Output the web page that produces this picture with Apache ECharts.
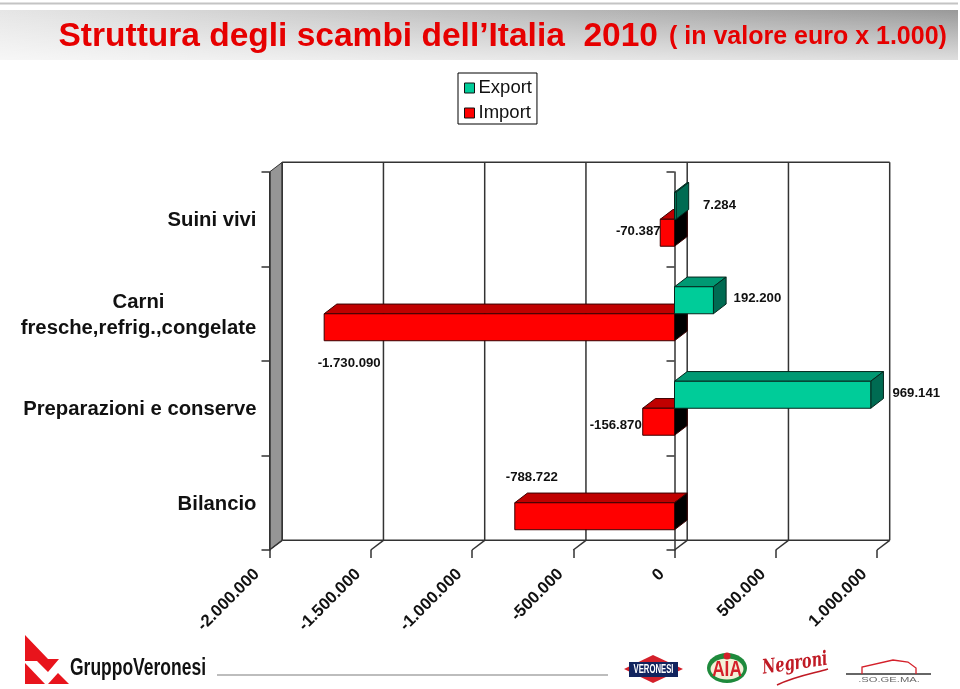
<!DOCTYPE html>
<html>
<head>
<meta charset="utf-8">
<style>html,body{margin:0;padding:0;background:#fff}#c{width:960px;height:689px}</style>
<script src="https://cdn.jsdelivr.net/npm/echarts@6/dist/echarts.min.js"></script>
</head>
<body>
<div id="c"></div>
<script>
const categories = ['Suini vivi', 'Carni\nfresche,refrig.,congelate', 'Preparazioni e conserve', 'Bilancio'];
const exportValues = [7284, 192200, 969141, null];
const importValues = [-70387, -1730090, -156870, -788722];
const xTicks = [-2000000, -1500000, -1000000, -500000, 0, 500000, 1000000];

const exportLabelNudge = [[43.5, 0], [44, -1.5], [45.5, -1], null];
const importLabelNudge = [[-22, -1], [25, 36], [-27, 3.5], [17, -39]];

const DX = 12.7, DY = -9.7;
const FONT = '"Liberation Sans", Arial, sans-serif';
const AXIS = '#333333';
const fmt = v => String(v).replace(/\B(?=(\d{3})+(?!\d))/g, '.');

const colors = {
  Export: {front: '#00CC99', top: '#009973', side: '#006B52', edge: '#04261c'},
  Import: {front: '#FF0000', top: '#C00000', side: '#000000', edge: '#3a0000'}
};

function box(kind, nudges) {
  const c = colors[kind];
  return function (params, api) {
    const v = api.value(0), idx = api.value(1);
    if (v == null || isNaN(v)) return;
    const band = api.size([0, 1])[1];
    const h = band * 0.2857;
    const base = api.coord([0, idx]);
    const end = api.coord([v, idx]);
    const x0 = Math.min(base[0], end[0]), x1 = Math.max(base[0], end[0]);
    const yT = kind === 'Export' ? base[1] - h : base[1];
    const yB = yT + h;
    const poly = (pts, fill) => ({type: 'polygon', shape: {points: pts},
      style: {fill, stroke: c.edge, lineWidth: 1}});
    const kids = [
      poly([[x0, yT], [x0 + DX, yT + DY], [x1 + DX, yT + DY], [x1, yT]], c.top),
      poly([[x1, yT], [x1 + DX, yT + DY], [x1 + DX, yB + DY], [x1, yB]], c.side),
      poly([[x0, yT], [x1, yT], [x1, yB], [x0, yB]], c.front)
    ];
    const n = nudges[params.dataIndex];
    if (n) kids.push({type: 'text', z2: 50, style: {
      text: fmt(v), x: end[0] + n[0], y: (yT + yB) / 2 + n[1], align: 'center', verticalAlign: 'middle',
      font: 'bold 13.2px ' + FONT, fill: '#111'}});
    return {type: 'group', children: kids};
  };
}

function wall(params, api) {
  const g = params.coordSys;
  const v = api.value(0);
  const x = api.coord([v, 0])[0];
  const top = g.y, bot = g.y + g.height;
  const line = (a, b, w) => ({type: 'line', shape: {x1: a[0], y1: a[1], x2: b[0], y2: b[1]},
    style: {stroke: AXIS, lineWidth: w || 1.5}});
  const kids = [];
  if (params.dataIndex === 0) {
    kids.push({type: 'polygon', shape: {points: [[x, top], [x + DX, top + DY], [x + DX, bot + DY], [x, bot]]},
      style: {fill: '#969696', stroke: AXIS, lineWidth: 1}});
    kids.push(line([x + DX, top + DY], [g.x + g.width + DX, top + DY]));
    kids.push(line([x + DX, bot + DY], [g.x + g.width + DX, bot + DY]));
  }
  kids.push(line([x + DX, top + DY], [x + DX, bot + DY]));
  kids.push(line([x, bot], [x + DX, bot + DY]));
  return {type: 'group', children: kids};
}

const chart = echarts.init(document.getElementById('c'), null, {renderer: 'canvas'});
const red = '#E60000';
chart.setOption({
  animation: false,
  backgroundColor: '#fff',
  textStyle: {fontFamily: FONT},
  title: {
    left: 58.5, top: 19, padding: 0,
    text: '{a|Struttura degli scambi dell’Italia  2010}{g| }{b|( in valore euro x 1.000)}',
    textStyle: {rich: {
      a: {fontFamily: FONT, fontWeight: 'bold', fontSize: 33.5, color: red, lineHeight: 36},
      g: {fontFamily: FONT, fontWeight: 'bold', fontSize: 25, color: red, lineHeight: 36, width: 11},
      b: {fontFamily: FONT, fontWeight: 'bold', fontSize: 25, color: red, lineHeight: 36}
    }}
  },
  legend: {
    left: 458, top: 73, orient: 'vertical', padding: [5.5, 5, 1.5, 6], itemGap: 6,
    itemWidth: 10, itemHeight: 10, icon: 'rect',
    borderColor: '#000', borderWidth: 1, backgroundColor: '#fff',
    textStyle: {fontFamily: FONT, fontSize: 18.5, color: '#111', padding: [0, 0, 0, -1]},
    data: [
      {name: 'Export', itemStyle: {color: colors.Export.front, borderColor: '#111', borderWidth: 1}},
      {name: 'Import', itemStyle: {color: colors.Import.front, borderColor: '#111', borderWidth: 1}}
    ]
  },
  grid: {left: 269.5, top: 172, width: 607.5, height: 378, containLabel: false},
  xAxis: {
    type: 'value', min: -2000000, max: 1000000, interval: 500000,
    axisLine: {onZero: false, lineStyle: {color: AXIS, width: 1.5}},
    axisTick: {show: true, length: 8, lineStyle: {color: AXIS, width: 1.5}},
    splitLine: {show: false},
    axisLabel: {rotate: 45, margin: 9, fontFamily: FONT, fontSize: 16.7, fontWeight: 'bold', color: '#111',
      formatter: v => (v < 0 ? '-' : '') + fmt(Math.abs(v)), hideOverlap: false, padding: [0, 18, 0, 0]}
  },
  yAxis: [
    {
      type: 'category', inverse: true, data: categories, position: 'left',
      axisLine: {onZero: false, lineStyle: {color: AXIS, width: 1.5}},
      axisTick: {show: true, length: 8, lineStyle: {color: AXIS, width: 1.5}},
      axisLabel: {
        margin: 13, interval: 0, fontFamily: FONT, fontSize: 20.3, fontWeight: 'bold', color: '#111',
        padding: [3, 0, 0, 0],
        formatter: s => s.includes('\n') ? s.split('\n').map(t => '{c|' + t + '}').join('\n') : s,
        rich: {c: {width: 236, align: 'center', fontFamily: FONT, fontSize: 20.3, fontWeight: 'bold', color: '#111', lineHeight: 26}}
      }
    },
    {
      type: 'category', inverse: true, data: categories, position: 'left',
      axisLine: {onZero: true, lineStyle: {color: AXIS, width: 1.5}},
      axisTick: {show: true, length: 8, lineStyle: {color: AXIS, width: 1.5}},
      axisLabel: {show: false}
    }
  ],
  series: [
    {name: 'wall', type: 'custom', z: 0, coordinateSystem: 'cartesian2d', yAxisIndex: 0, clip: false, silent: true,
      encode: {x: 0, y: 1}, renderItem: wall,
      data: xTicks.map(v => [v, 0])},
    {name: 'Import', type: 'custom', z: 3, coordinateSystem: 'cartesian2d', yAxisIndex: 0, clip: false,
      itemStyle: {color: colors.Import.front}, encode: {x: 0, y: 1}, renderItem: box('Import', importLabelNudge),
      data: importValues.map((v, i) => [v, i])},
    {name: 'Export', type: 'custom', z: 4, coordinateSystem: 'cartesian2d', yAxisIndex: 0, clip: false,
      itemStyle: {color: colors.Export.front}, encode: {x: 0, y: 1}, renderItem: box('Export', exportLabelNudge),
      data: exportValues.map((v, i) => [v, i])}
  ],
  graphic: [
    {type: 'rect', z: -5, shape: {x: 0, y: 2.5, width: 958, height: 2}, style: {fill: '#c4c4c4'}},
    {type: 'rect', z: -5, shape: {x: 0, y: 10, width: 958, height: 50},
      style: {fill: {type: 'linear', x: 0, y: 0, x2: 1, y2: 0, colorStops: [
        {offset: 0, color: '#e6e6e6'}, {offset: 0.4, color: '#c6c6c6'}, {offset: 1, color: '#999999'}]}}},
    {type: 'rect', z: -4, shape: {x: 0, y: 10, width: 958, height: 50},
      style: {fill: {type: 'linear', x: 0, y: 0, x2: 0, y2: 1, colorStops: [
        {offset: 0, color: 'rgba(255,255,255,0)'}, {offset: 1, color: 'rgba(255,255,255,0.68)'}]}}},
    {type: 'line', z: -5, shape: {x1: 217, y1: 675, x2: 608, y2: 675}, style: {stroke: '#bdbdbd', lineWidth: 2}},

    {type: 'polygon', shape: {points: [[25, 635], [48, 659], [59, 659], [48, 672], [37, 661], [25, 661]]}, style: {fill: '#E8141C'}},
    {type: 'polygon', shape: {points: [[25, 663], [45, 684], [25, 684]]}, style: {fill: '#E8141C'}},
    {type: 'polygon', shape: {points: [[48, 684], [58, 673], [69, 684]]}, style: {fill: '#E8141C'}},
    {type: 'text', x: 70, y: 669, scaleX: 0.76, style: {text: 'GruppoVeronesi', x: 0, y: 0, verticalAlign: 'middle',
      font: 'bold 23px ' + FONT, fill: '#111'}},

    {type: 'polygon', shape: {points: [[624, 669], [653, 655], [683, 669], [653, 683]]}, style: {fill: '#D4202A'}},
    {type: 'rect', shape: {x: 629, y: 662, width: 49, height: 15}, style: {fill: '#12245E'}},
    {type: 'text', x: 653.5, y: 669.5, scaleX: 0.62, style: {text: 'VERONESI', x: 0, y: 0, align: 'center', verticalAlign: 'middle',
      font: 'bold 12.5px ' + FONT, fill: '#fff'}},

    {type: 'ellipse', shape: {cx: 727, cy: 668, rx: 20, ry: 15}, style: {fill: '#1E8A3C'}},
    {type: 'ellipse', shape: {cx: 727, cy: 669, rx: 16.5, ry: 10.5}, style: {fill: '#F4F0D8'}},
    {type: 'circle', shape: {cx: 727, cy: 656, r: 3.5}, style: {fill: '#D4202A'}},
    {type: 'text', x: 727, y: 670, scaleX: 0.78, style: {text: 'AIA', x: 0, y: 0, align: 'center', verticalAlign: 'middle',
      font: 'bold 22px ' + FONT, fill: '#D4202A'}},

    {type: 'text', x: 795, y: 664, rotation: 0.14, scaleX: 0.72, style: {text: 'Negroni', x: 0, y: 0, align: 'center', verticalAlign: 'middle',
      font: 'italic bold 20px "DejaVu Serif", serif', fill: '#C01A24'}},
    {type: 'bezierCurve', shape: {x1: 777, y1: 685, x2: 828, y2: 669, cpx1: 795, cpy1: 676, cpx2: 815, cpy2: 673},
      style: {stroke: '#C01A24', fill: 'none', lineWidth: 1.5}},

    {type: 'line', shape: {x1: 846, y1: 674, x2: 931, y2: 674}, style: {stroke: '#333', lineWidth: 1.5}},
    {type: 'polyline', shape: {points: [[862, 674], [862, 667], [893, 660], [908, 662], [916, 668], [916, 674]]},
      style: {stroke: '#D4202A', fill: 'none', lineWidth: 1.3}},
    {type: 'text', x: 889, y: 680, scaleX: 1.4, style: {text: '.SO.GE.MA.', x: 0, y: 0, align: 'center', verticalAlign: 'middle',
      font: '8px ' + FONT, fill: '#666'}}
  ]
});
</script>
</body>
</html>
